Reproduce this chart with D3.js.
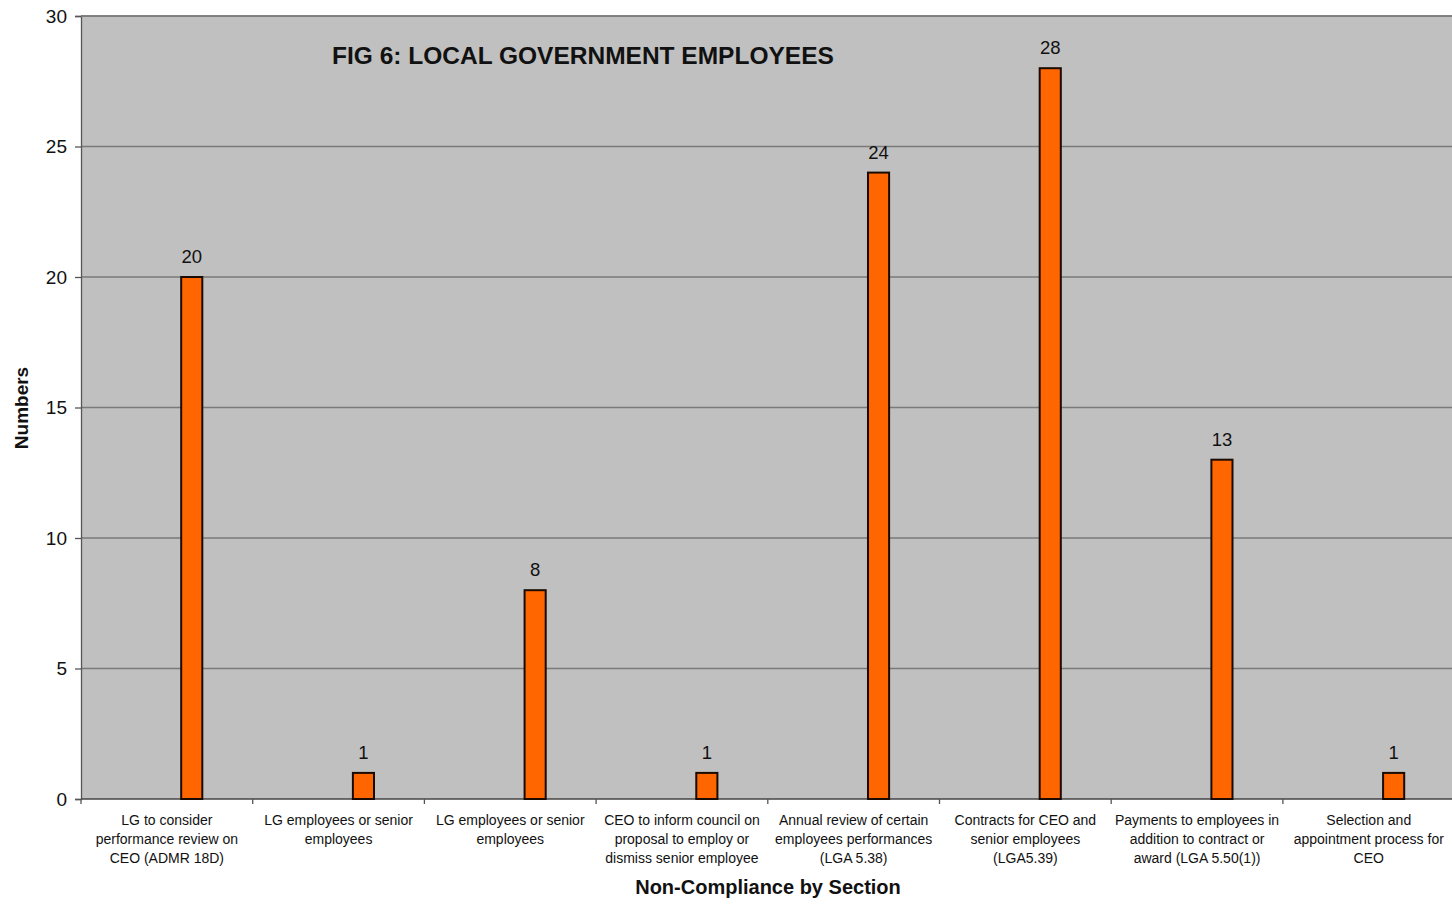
<!DOCTYPE html>
<html>
<head>
<meta charset="utf-8">
<script src="https://cdn.jsdelivr.net/npm/d3@7/dist/d3.min.js"></script>
<style>
  html, body { margin: 0; padding: 0; background: #ffffff; }
  svg { display: block; font-family: "Liberation Sans", Arial, sans-serif; }
</style>
</head>
<body>
<svg id="chart" width="1452" height="904"></svg>
<script>
// Non-compliance counts by section
const categories = [
  "LG to consider\nperformance review on\nCEO (ADMR 18D)",
  "LG employees or senior\nemployees",
  "LG employees or senior\nemployees",
  "CEO to inform council on\nproposal to employ or\ndismiss senior employee",
  "Annual review of certain\nemployees performances\n(LGA 5.38)",
  "Contracts for CEO and\nsenior employees\n(LGA5.39)",
  "Payments to employees in\naddition to contract or\naward (LGA 5.50(1))",
  "Selection and\nappointment process for\nCEO"
];
const counts = [20, 1, 8, 1, 24, 28, 13, 1];
const yTicks = [0, 5, 10, 15, 20, 25, 30];

const chartTitle = "FIG 6: LOCAL GOVERNMENT EMPLOYEES";
const xTitle = "Non-Compliance by Section";
const yTitle = "Numbers";

const svg = d3.select("#chart");
const margin = { left: 81, top: 16, bottom: 105 };
const bandW = 171.7;
const plotW = bandW * categories.length;
const plotH = 904 - margin.top - margin.bottom;

const x = d3.scaleBand()
  .domain(d3.range(categories.length))
  .range([margin.left, margin.left + plotW])
  .paddingInner(0).paddingOuter(0);
const y = d3.scaleLinear().domain([0, 30]).range([margin.top + plotH, margin.top]);

// plot background
svg.append("rect")
  .attr("x", margin.left).attr("y", margin.top)
  .attr("width", plotW).attr("height", plotH)
  .attr("fill", "#c0c0c0");

// horizontal gridlines
svg.append("g")
  .selectAll("line")
  .data(yTicks.filter(d => d > 0))
  .join("line")
  .attr("x1", margin.left).attr("x2", margin.left + plotW)
  .attr("y1", d => y(d)).attr("y2", d => y(d))
  .attr("stroke", "#7a7a7a").attr("stroke-width", 1.3);

// y axis
const yAxis = svg.append("g")
  .attr("transform", `translate(${margin.left},0)`)
  .call(d3.axisLeft(y).tickValues(yTicks).tickSize(6).tickPadding(8));
yAxis.select(".domain").attr("stroke", "#555").attr("stroke-width", 1.3);
yAxis.selectAll(".tick line").attr("stroke", "#555").attr("stroke-width", 1.3);
yAxis.selectAll(".tick text")
  .attr("font-size", 19).attr("fill", "#111")
  .attr("font-family", "Liberation Sans, Arial, sans-serif");

// x axis with ticks at band boundaries
const xAxisG = svg.append("g");
xAxisG.append("line")
  .attr("x1", margin.left).attr("x2", margin.left + plotW)
  .attr("y1", y(0)).attr("y2", y(0))
  .attr("stroke", "#444").attr("stroke-width", 1.5);
xAxisG.selectAll("line.tk")
  .data(d3.range(categories.length))
  .join("line").attr("class", "tk")
  .attr("x1", d => x(d)).attr("x2", d => x(d))
  .attr("y1", y(0)).attr("y2", y(0) + 5)
  .attr("stroke", "#555").attr("stroke-width", 1.3);

// category labels
const labels = xAxisG.selectAll("text.cat")
  .data(categories)
  .join("text").attr("class", "cat")
  .attr("text-anchor", "middle")
  .attr("font-size", 14)
  .attr("fill", "#111")
  .attr("transform", (d, i) => `translate(${x(i) + x.bandwidth() / 2},${y(0) + 26})`);
labels.selectAll("tspan")
  .data(d => d.split("\n"))
  .join("tspan")
  .attr("x", 0)
  .attr("y", (d, i) => i * 19)
  .text(d => d);

// bars
const barW = x.bandwidth() * 0.123;
const barCenter = 0.645;
svg.append("g")
  .selectAll("rect")
  .data(counts)
  .join("rect")
  .attr("x", (d, i) => x(i) + x.bandwidth() * barCenter - barW / 2)
  .attr("y", d => y(d))
  .attr("width", barW)
  .attr("height", d => y(0) - y(d))
  .attr("fill", "#ff6600")
  .attr("stroke", "#1a0a00")
  .attr("stroke-width", 2);

// value labels
svg.append("g")
  .selectAll("text")
  .data(counts)
  .join("text")
  .attr("x", (d, i) => x(i) + x.bandwidth() * barCenter)
  .attr("y", d => y(d) - 14)
  .attr("text-anchor", "middle")
  .attr("font-size", 18.5)
  .attr("fill", "#111")
  .text(d => d);

// top frame line
svg.append("line")
  .attr("x1", margin.left).attr("x2", margin.left + plotW)
  .attr("y1", margin.top).attr("y2", margin.top)
  .attr("stroke", "#7a7a7a").attr("stroke-width", 1.5);

// titles
svg.append("text")
  .attr("x", 332).attr("y", 64)
  .attr("font-size", 24.5).attr("font-weight", "bold")
  .attr("fill", "#111")
  .text(chartTitle);

svg.append("text")
  .attr("x", 768).attr("y", 894)
  .attr("text-anchor", "middle")
  .attr("font-size", 20).attr("font-weight", "bold")
  .attr("fill", "#111")
  .text(xTitle);

svg.append("text")
  .attr("transform", "translate(28,408) rotate(-90)")
  .attr("text-anchor", "middle")
  .attr("font-size", 19).attr("font-weight", "bold")
  .attr("fill", "#111")
  .text(yTitle);
</script>
</body>
</html>
